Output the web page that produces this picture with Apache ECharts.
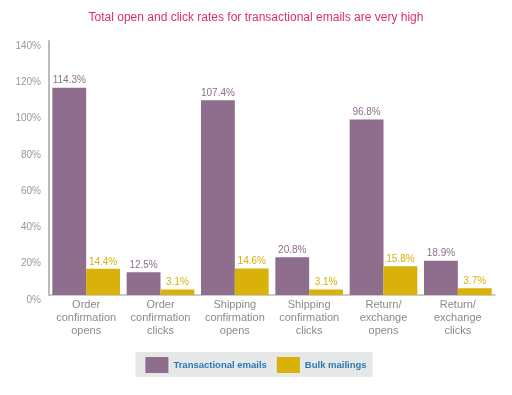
<!DOCTYPE html>
<html><head><meta charset="utf-8">
<script src="https://cdn.jsdelivr.net/npm/echarts@6/dist/echarts.min.js"></script>
<style>html,body{margin:0;padding:0;background:#fff}#c{width:512px;height:395px}</style>
</head><body><div id="c"></div>
<script>
const categories = ["Order\nconfirmation\nopens","Order\nconfirmation\nclicks","Shipping\nconfirmation\nopens","Shipping\nconfirmation\nclicks","Return/\nexchange\nopens","Return/\nexchange\nclicks"];
const transactional = [114.3, 12.5, 107.4, 20.8, 96.8, 18.9];
const bulk = [14.4, 3.1, 14.6, 3.1, 15.8, 3.7];
const seriesNames = ["Transactional emails", "Bulk mailings"];

const chart = echarts.init(document.getElementById('c'));
const font = 'Liberation Sans, Arial, sans-serif';
chart.setOption({
  animation: false,
  title: {
    text: 'Total open and click rates for transactional emails are very high',
    left: 'center', top: 7,
    textStyle: {color: '#dc2f68', fontSize: 12, fontWeight: 'normal', fontFamily: font}
  },
  legend: {
    bottom: 18, left: 'center',
    backgroundColor: '#e6e8e8',
    padding: [5, 6, 4, 10],
    icon: 'rect',
    itemWidth: 23, itemHeight: 16, itemGap: 10,
    textStyle: {color: '#2a78b5', fontSize: 9.5, fontWeight: 'bold', fontFamily: font},
    data: seriesNames
  },
  grid: {left: 49, right: 17, top: 41, bottom: 100},
  xAxis: {
    type: 'category', data: categories,
    axisLine: {lineStyle: {color: '#bbbbbb', width: 1.5}},
    axisTick: {show: false},
    axisLabel: {color: '#8a8a8a', fontSize: 11, lineHeight: 13, margin: 3, fontFamily: font, interval: 0}
  },
  yAxis: {
    type: 'value', min: 0, max: 140, interval: 20,
    axisLine: {show: true, lineStyle: {color: '#bbbbbb', width: 2}},
    axisTick: {show: false},
    splitLine: {show: false},
    axisLabel: {color: '#999999', fontSize: 10, formatter: '{value}%', margin: 8, fontFamily: font, verticalAlign: 'top'}
  },
  series: [
    {
      name: seriesNames[0], type: 'bar', data: transactional,
      barGap: '0%', barCategoryGap: '9%',
      itemStyle: {color: '#8f6d8c'},
      label: {show: true, position: 'top', formatter: '{c}%', color: '#8a6f8c', fontSize: 10, fontFamily: font, distance: 2}
    },
    {
      name: seriesNames[1], type: 'bar', data: bulk,
      itemStyle: {color: '#d8b10a'},
      label: {show: true, position: 'top', formatter: '{c}%', color: '#d8b10a', fontSize: 10, fontFamily: font, distance: 2}
    }
  ]
});
</script></body></html>
